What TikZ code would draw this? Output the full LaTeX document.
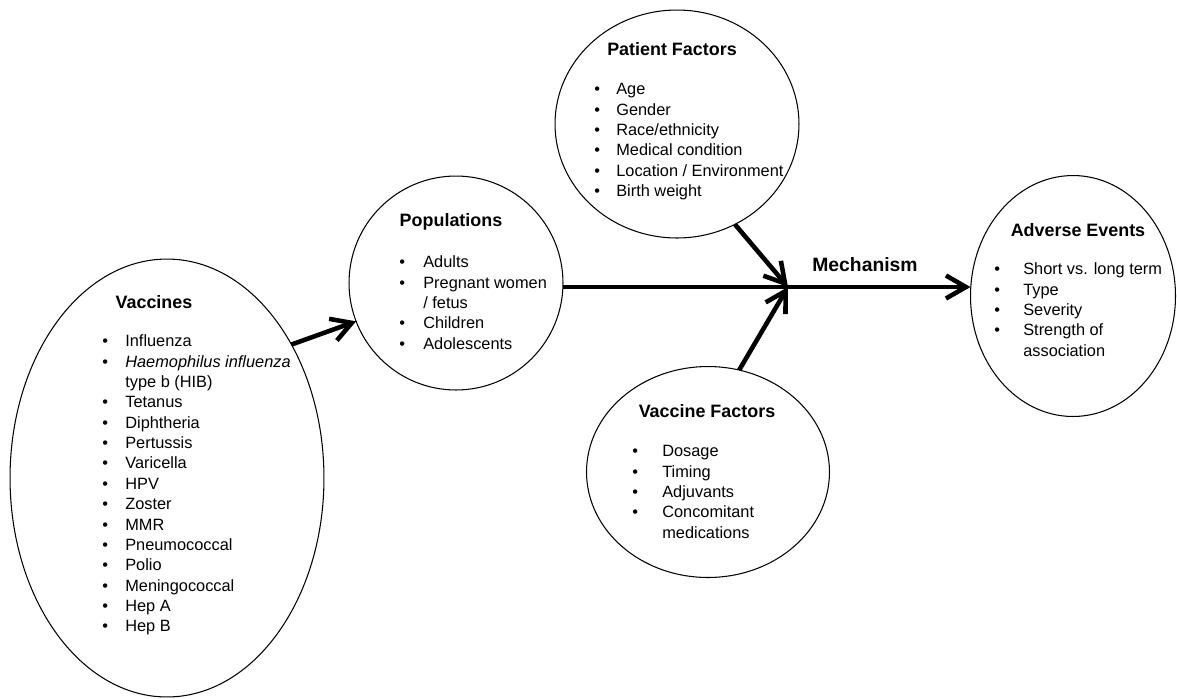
\documentclass[tikz,border=0pt]{standalone}
\usepackage{fontspec}
\setmainfont{Liberation Sans}
\usetikzlibrary{shapes.geometric,arrows.meta}
\newcommand{\bullist}[2]{\begin{tabular}{@{}p{#1}@{}l@{}}#2\end{tabular}}
\tikzset{
  bub_e/.style = {ellipse, draw=black, line width=0.6pt, inner sep=0pt, outer sep=0pt},
  hd_t/.style = {inner sep=0pt, font=\fontsize{10.2}{12}\selectfont\bfseries},
  ls_t/.style = {anchor=north west, inner sep=0pt, font=\fontsize{9.3}{11.6}\selectfont},
  arw_k/.style = {line width=2.6pt, -{Straight Barb[length=4mm,width=4.6mm]}}
}

\begin{document}
\begin{tikzpicture}[x=0.02cm, y=-0.02cm]
\useasboundingbox (0,0) rectangle (1177,698);
\node [bub_e, minimum width=6.28cm, minimum height=8.76cm] (vac) at (167,478) {};
\node [bub_e, minimum width=4.28cm, minimum height=4.28cm] (pop) at (456,283) {};
\node [bub_e, minimum width=4.88cm, minimum height=4.56cm] (pat) at (677,124) {};
\node [bub_e, minimum width=4.86cm, minimum height=4.22cm] (vfa) at (708,472) {};
\node [bub_e, minimum width=4.1cm, minimum height=4.82cm] (adv) at (1073,296) {};

\node [hd_t] (vac_t) at (154,302) {Vaccines};
\node [ls_t] (vac_l) at (102,332) {\bullist{0.46cm}{%
  \textbullet & Influenza\\
  \textbullet & \textit{Haemophilus influenza}\\
   & type b (HIB)\\
  \textbullet & Tetanus\\
  \textbullet & Diphtheria\\
  \textbullet & Pertussis\\
  \textbullet & Varicella\\
  \textbullet & HPV\\
  \textbullet & Zoster\\
  \textbullet & MMR\\
  \textbullet & Pneumococcal\\
  \textbullet & Polio\\
  \textbullet & Meningococcal\\
  \textbullet & Hep A\\
  \textbullet & Hep B}};

\node [hd_t] (pop_t) at (451,222) {Populations};
\node [ls_t] (pop_l) at (399,253) {\bullist{0.48cm}{%
  \textbullet & Adults\\
  \textbullet & Pregnant women\\
   & / fetus\\
  \textbullet & Children\\
  \textbullet & Adolescents}};

\node [hd_t] (pat_t) at (672,49) {Patient Factors};
\node [ls_t] (pat_l) at (594,80) {\bullist{0.44cm}{%
  \textbullet & Age\\
  \textbullet & Gender\\
  \textbullet & Race/ethnicity\\
  \textbullet & Medical condition\\
  \textbullet & Location / Environment\\
  \textbullet & Birth weight}};

\node [hd_t] (vfa_t) at (707,411) {Vaccine Factors};
\node [ls_t] (vfa_l) at (632,442) {\bullist{0.6cm}{%
  \textbullet & Dosage\\
  \textbullet & Timing\\
  \textbullet & Adjuvants\\
  \textbullet & Concomitant\\
   & medications}};

\node [hd_t] (adv_t) at (1078,230) {Adverse Events};
\node [ls_t] (adv_l) at (994,260) {\bullist{0.58cm}{%
  \textbullet & Short vs. long term\\
  \textbullet & Type\\
  \textbullet & Severity\\
  \textbullet & Strength of\\
   & association}};

\coordinate (jn) at (788,287);
\node [hd_t, font=\fontsize{11}{13}\selectfont\bfseries] (mech) at (865,265) {Mechanism};

\draw [arw_k] (vac.47) -- (pop.201);
\draw [arw_k] (pat.-60) -- (jn);
\draw [arw_k] (vfa.73) -- (jn);
\draw [arw_k] (jn -| pop.east) -- (jn -| adv.west);
\end{tikzpicture}
\end{document}
